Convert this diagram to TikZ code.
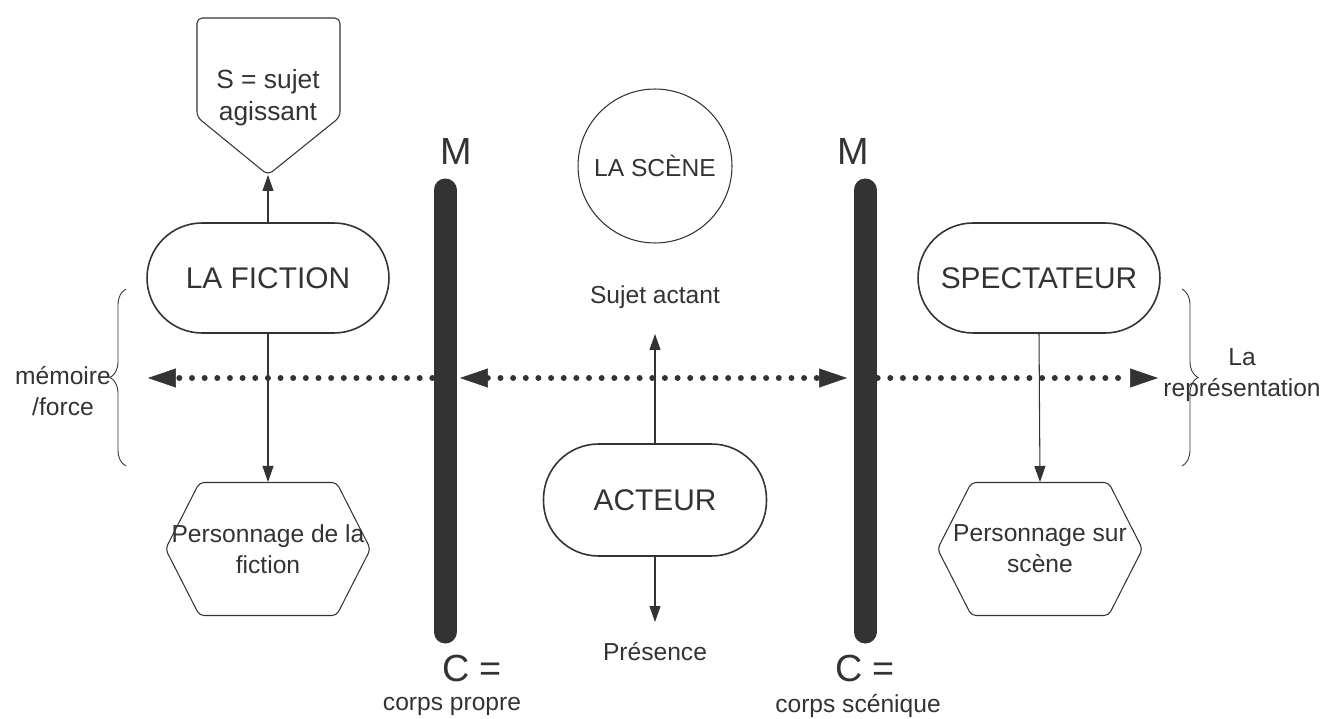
\documentclass[tikz,border=0pt]{standalone}
\usepackage{fontspec}
\setmainfont{Liberation Sans}
\usetikzlibrary{arrows.meta,shapes.symbols,decorations.pathreplacing}
\definecolor{ink}{HTML}{333333}
\tikzset{
  lab/.style={text=ink, font=\fontsize{14}{17.5}\selectfont, align=center},
  boxText/.style={text=ink, font=\fontsize{17}{20}\selectfont},
  barText/.style={text=ink, font=\fontsize{21.5}{24}\selectfont},
  pill/.style={draw=ink, line width=0.9pt, rounded corners=1.1cm, minimum width=4.84cm, minimum height=2.2cm, boxText},
  hexa/.style={draw=ink, line width=0.6pt, signal, signal to=west and east, signal pointer angle=126, minimum width=4.1cm, minimum height=2.66cm, rounded corners=2.5pt, inner sep=0pt, lab},
  shapeLine/.style={draw=ink, line width=0.6pt, rounded corners=3pt},
  scene/.style={draw=ink, line width=0.6pt, circle, minimum size=3.08cm, inner sep=0pt, lab},
  arr/.style={draw=ink, line width=0.6pt, -{Triangle[length=0.32cm,width=0.22cm]}},
  mbar/.style={draw=ink, line width=0.46cm, line cap=round},
  dotArrow/.style={draw=ink, line width=3.4pt, line cap=round, dash pattern=on 0pt off 7.2pt, -{Triangle[length=0.56cm,width=0.38cm,line width=0.4pt]}},
  brace/.style={draw=ink, line width=0.5pt, decorate, decoration={brace, amplitude=0.32cm}}
}

\begin{document}
\begin{tikzpicture}[x=0.02cm, y=-0.02cm]
\useasboundingbox (0,0) rectangle (1328,719);

% bars
\coordinate (mLt) at (445,190);
\coordinate (mLb) at (445,632);
\coordinate (mRt) at (865,190);
\coordinate (mRb) at (865,632);
\draw[mbar] (mLt)--(mLb);
\draw[mbar] (mRt)--(mRb);
\node[barText] (mL) at (456,152) {M};
\node[barText] (mR) at (853,152) {M};
\node[barText] (cL) at (472,668) {C =};
\node[barText] (cR) at (865,668) {C =};
\node[lab] (corpsL) at (452,706) {corps propre};
\node[lab] (corpsR) at (858,706) {corps scénique};

% dotted line
\coordinate (dL) at (148,378);
\coordinate (dR) at (1158,378);
\coordinate (xL) at (445,378);
\coordinate (xR) at (865,378);
\draw[dotArrow] (xL)--(dL);
\draw[dotArrow, {Triangle[length=0.56cm,width=0.38cm,line width=0.4pt]}-{Triangle[length=0.56cm,width=0.38cm,line width=0.4pt]}, shorten <=0.3cm, shorten >=0.36cm] (xL)--(xR);
\draw[dotArrow] (xR)--(dR);

% left
\coordinate (sujetTip) at (268,175);
\draw[shapeLine] (197,18)--(340,18)--(340,117)--(sujetTip)--(197,117)--cycle;
\node[lab, font=\fontsize{15}{18}\selectfont] (sujet) at (268,98) {S = sujet\\agissant};
\node[pill] (fiction) at (268,278) {LA FICTION};
\node[hexa] (persF) at (268,549) {\makebox[2.5cm]{Personnage de la}\\fiction};
\draw[arr] (fiction.north)--(sujetTip);
\draw[arr] (fiction.south)--(persF.north);
\coordinate (bLt) at (126,289);
\coordinate (bLb) at (126,466);
\draw[brace] (bLb)--(bLt);
\node[lab] (memoire) at (63,391) {mémoire\\/force};

% center
\node[scene] (laScene) at (655,166) {LA SCÈNE};
\node[lab] (actant) at (655,297) {Sujet actant};
\node[pill, minimum width=4.46cm, minimum height=2.24cm] (acteur) at (655,500) {ACTEUR};
\node[lab] (presence) at (655,652) {Présence};
\coordinate (actTip) at (655,334);
\coordinate (presTip) at (655,622);
\draw[arr] (acteur.north)--(actTip);
\draw[arr] (acteur.south)--(presTip);

% right
\node[pill] (spect) at (1039,278) {SPECTATEUR};
\node[hexa] (persS) at (1040,549) {\makebox[2.5cm]{Personnage sur}\\scène};
\draw[arr] (spect.south)--(persS.north);
\coordinate (bRt) at (1182,289);
\coordinate (bRb) at (1182,466);
\draw[brace] (bRt)--(bRb);
\node[lab] (repr) at (1242,375) {La\\représentation};
\end{tikzpicture}
\end{document}
